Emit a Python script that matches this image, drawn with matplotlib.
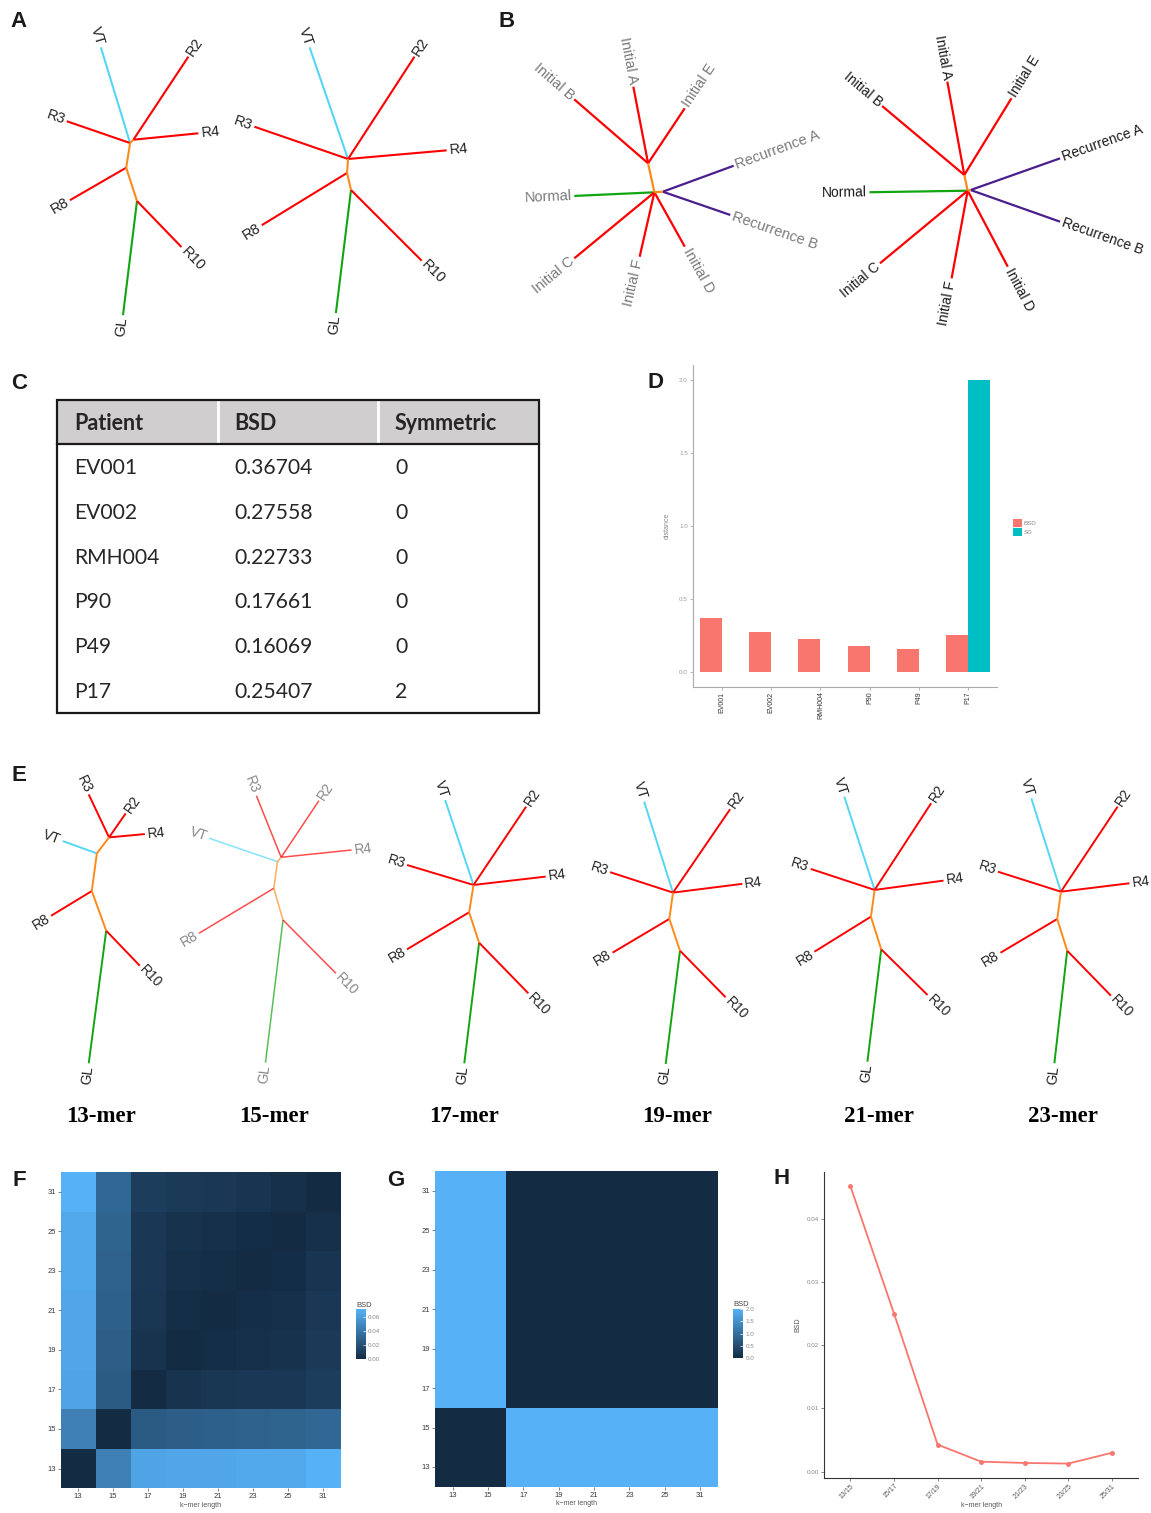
import numpy as np
import matplotlib
matplotlib.use("Agg")
import matplotlib.pyplot as plt
from matplotlib.colors import LinearSegmentedColormap
from matplotlib.patches import Rectangle

plt.rcParams['font.family'] = ['Liberation Sans', 'DejaVu Sans']

W, H = 1151, 1513

# ---- data -------------------------------------------------------------
patients = ["EV001", "EV002", "RMH004", "P90", "P49", "P17"]
bsd = [0.36704, 0.27558, 0.22733, 0.17661, 0.16069, 0.25407]
symmetric = [0, 0, 0, 0, 0, 2]

kmers = [13, 15, 17, 19, 21, 23, 25, 31]
# rows: y = 13 .. 31 (bottom to top), cols: x = 13 .. 31
bsd_matrix = [
    [0.000, 0.045, 0.064, 0.065, 0.065, 0.066, 0.066, 0.071],
    [0.045, 0.000, 0.025, 0.027, 0.028, 0.029, 0.030, 0.032],
    [0.064, 0.025, 0.000, 0.0043, 0.006, 0.007, 0.007, 0.010],
    [0.065, 0.027, 0.0043, 0.000, 0.0016, 0.003, 0.004, 0.008],
    [0.065, 0.028, 0.006, 0.0016, 0.000, 0.0014, 0.003, 0.007],
    [0.066, 0.029, 0.007, 0.003, 0.0014, 0.000, 0.0013, 0.005],
    [0.066, 0.030, 0.007, 0.004, 0.003, 0.0013, 0.000, 0.003],
    [0.071, 0.032, 0.010, 0.008, 0.007, 0.005, 0.003, 0.000],
]
sd_matrix = [
    [0, 0, 2, 2, 2, 2, 2, 2],
    [0, 0, 2, 2, 2, 2, 2, 2],
    [2, 2, 0, 0, 0, 0, 0, 0],
    [2, 2, 0, 0, 0, 0, 0, 0],
    [2, 2, 0, 0, 0, 0, 0, 0],
    [2, 2, 0, 0, 0, 0, 0, 0],
    [2, 2, 0, 0, 0, 0, 0, 0],
    [2, 2, 0, 0, 0, 0, 0, 0],
]
pair_labels = ["13/15", "15/17", "17/19", "19/21", "21/23", "23/25", "25/31"]
pair_bsd = [0.0451, 0.0250, 0.0043, 0.0016, 0.0014, 0.0013, 0.0030]

mer_titles = ["13-mer", "15-mer", "17-mer", "19-mer", "21-mer", "23-mer"]

# unrooted trees: (parent, child, branch length, angle in degrees)
tree_a1 = [("a", "GL", 115, -97), ("a", "R10", 64, -46), ("a", "b", 35, 108),
           ("b", "R8", 65, 210), ("b", "c", 25, 81), ("c", "VT", 100, 107),
           ("c", "R3", 67, 161), ("c", "d", 4.7, 45), ("d", "R2", 99.6, 56.5),
           ("d", "R4", 65.3, 5.6)]
tree_a2 = [("a", "GL", 124, -97), ("a", "R10", 100, -45), ("a", "b", 17.5, 103),
           ("b", "R8", 100, 211.5), ("b", "c", 14, 86), ("c", "VT", 118, 109),
           ("c", "R3", 99, 161), ("c", "R2", 122, 57), ("c", "R4", 99, 5)]
tree_b1 = [("m", "c", 29.7, 102.3), ("m", "r", 8.4, 4), ("m", "Normal", 80.2, 182.6),
           ("m", "Initial C", 103.8, 219.5), ("m", "Initial F", 66.1, 257.1),
           ("m", "Initial D", 62.3, -60.8), ("r", "Recurrence A", 75.5, 20.1),
           ("r", "Recurrence B", 71.4, -19), ("c", "Initial B", 97.7, 139.1),
           ("c", "Initial A", 78, 100.9), ("c", "Initial E", 66.1, 56.3)]
tree_b2 = [("m", "c", 16.1, 102.2), ("m", "r", 3, 13), ("m", "Normal", 98.3, 180.9),
           ("m", "Initial C", 113.9, 219.6), ("m", "Initial F", 89.1, 259.6),
           ("m", "Initial D", 85.9, -62.2), ("r", "Recurrence A", 94.9, 19.5),
           ("r", "Recurrence B", 94.9, -19.5), ("c", "Initial B", 107.3, 140),
           ("c", "Initial A", 94.8, 100.3), ("c", "Initial E", 90.1, 58.4)]
tree_13 = [("a", "GL", 133.7, -97.5), ("a", "R10", 48.5, -46.2), ("a", "b", 42.2, 110),
           ("b", "R8", 47.6, 211.3), ("b", "e", 38, 82.3), ("e", "VT", 36.2, 160.1),
           ("e", "d", 20.1, 52.7), ("d", "R3", 47.6, 115.3), ("d", "R2", 29.2, 55.2),
           ("d", "R4", 36, 5.3)]
tree_15 = [("a", "GL", 143.8, -97), ("a", "R10", 75.1, -45.2), ("a", "b", 33, 106.2),
           ("b", "R8", 87.3, 211), ("b", "e", 26.9, 82.1), ("e", "VT", 72.4, 161.1),
           ("e", "d", 5.7, 50), ("d", "R3", 66.4, 111.9), ("d", "R2", 68, 56.3),
           ("d", "R4", 70.7, 5.9)]
tree_17 = [("a", "GL", 121.5, -97), ("a", "R10", 70.6, -45.8), ("a", "b", 32, 108.2),
           ("b", "R8", 72.3, 210.8), ("b", "c", 27.7, 80.8), ("c", "VT", 89.6, 108.5),
           ("c", "R3", 69.4, 163.3), ("c", "R2", 94.3, 56.1), ("c", "R4", 72.7, 6.6)]
tree_19 = [("a", "GL", 114.2, -97.2), ("a", "R10", 65.2, -45.6), ("a", "b", 33.5, 108.6),
           ("b", "R8", 66, 210.7), ("b", "c", 26.6, 82), ("c", "VT", 95.5, 107.6),
           ("c", "R3", 66.2, 162), ("c", "R2", 101.1, 55.6), ("c", "R4", 69.8, 7.2)]
tree_21 = [("a", "GL", 113.2, -97), ("a", "R10", 65.1, -44.6), ("a", "b", 34.2, 107.5),
           ("b", "R8", 66.4, 211.8), ("b", "c", 27, 82.1), ("c", "VT", 98.1, 108),
           ("c", "R3", 67.2, 161.8), ("c", "R2", 103.5, 56.9), ("c", "R4", 69.5, 7.7)]
tree_23 = [("a", "GL", 113.3, -96.5), ("a", "R10", 62.7, -45.8), ("a", "b", 33.2, 107.5),
           ("b", "R8", 66, 210.7), ("b", "c", 27.6, 82.3), ("c", "VT", 98, 107.6),
           ("c", "R3", 66.1, 162.4), ("c", "R2", 102.2, 56.3), ("c", "R4", 69.1, 7)]

# ---- helpers ----------------------------------------------------------
ORANGE = "#FF8A1C"


def tip_color(name):
    if name == "VT":
        return "#55D6F4"
    if name in ("GL", "Normal"):
        return "#12A512"
    if name.startswith("Recurrence"):
        return "#4A1E8C"
    return "#FF0000"


def draw_tree(ax, root, edges, fs, label_color, lw, alpha=1.0):
    pos = {edges[0][0]: root}
    for parent, child, length, ang in edges:
        x0, y0 = pos[parent]
        t = np.radians(ang)
        x1, y1 = x0 + length * np.cos(t), y0 - length * np.sin(t)
        pos[child] = (x1, y1)
        internal = len(child) == 1
        col = ORANGE if internal else tip_color(child)
        ax.plot([x0, x1], [y0, y1], color=col, lw=lw, alpha=alpha,
                solid_capstyle="butt", zorder=3 if internal else 2)
        if not internal:
            lx, ly = x1 + 2.5 * np.cos(t), y1 - 2.5 * np.sin(t)
            if np.cos(t) >= 0:
                rot, ha = ang, "left"
            else:
                rot, ha = ang - 180, "right"
            rot = ((rot + 180) % 360) - 180
            ax.text(lx, ly, child, rotation=rot, ha=ha, va="center",
                    rotation_mode="anchor", fontsize=fs, color=label_color)


fig = plt.figure(figsize=(W / 100, H / 100), dpi=100)


def px_axes(l, t, r, b):
    return fig.add_axes([l / W, 1 - b / H, (r - l) / W, (b - t) / H])


ax0 = fig.add_axes([0, 0, 1, 1])
ax0.set_xlim(0, W)
ax0.set_ylim(H, 0)
ax0.axis("off")

# ---- A / B / E trees --------------------------------------------------
draw_tree(ax0, (137, 201), tree_a1, 10.5, "#222222", 1.5)
draw_tree(ax0, (351, 190), tree_a2, 10.5, "#222222", 1.5)
draw_tree(ax0, (654.4, 192.3), tree_b1, 10.5, "#7a7a7a", 1.6)
draw_tree(ax0, (967.7, 190.7), tree_b2, 10, "#1a1a1a", 1.6)

e_trees = [tree_13, tree_15, tree_17, tree_19, tree_21, tree_23]
e_roots = [(106.2, 930.7), (283, 920), (479.1, 942.7), (680, 950.7),
           (881.2, 949.3), (1067.2, 950.7)]
e_title_x = [100.8, 273.8, 464.3, 677.4, 879.4, 1062.8]
for i, (tr, rt) in enumerate(zip(e_trees, e_roots)):
    if i == 1:
        draw_tree(ax0, rt, tr, 10, "#888888", 1.1, alpha=0.7)
    else:
        draw_tree(ax0, rt, tr, 10, "#222222", 1.4)
    ax0.text(e_title_x[i], 1116, mer_titles[i], ha="center", va="center",
             fontsize=16.5, fontweight="bold", family="Liberation Serif")

# ---- C table ----------------------------------------------------------
tl, tr_, tt, tb, th = 57, 539, 400, 713, 444
ax0.add_patch(Rectangle((tl, tt), tr_ - tl, th - tt, facecolor="#D0CECE",
                        edgecolor="none", zorder=1))
for xs in (218, 378):
    ax0.plot([xs, xs], [tt, th], color="white", lw=2, zorder=2)
ax0.add_patch(Rectangle((tl, tt), tr_ - tl, tb - tt, facecolor="none",
                        edgecolor="#1a1a1a", lw=1.6, zorder=3))
ax0.plot([tl, tr_], [th, th], color="#1a1a1a", lw=1.6, zorder=3)
col_x = [74, 234, 395]
for x, h in zip(col_x, ["Patient", "BSD", "Symmetric"]):
    ax0.text(x, 423, h, ha="left", va="center", fontsize=15.5,
             fontweight="bold", family="Lato", color="#262626")
for i, (p, b, s) in enumerate(zip(patients, bsd, symmetric)):
    y = 468.3 + i * 44.7
    ax0.text(col_x[0], y, p, ha="left", va="center", fontsize=15.2,
             family="Lato", color="#262626")
    ax0.text(col_x[1], y, f"{b:.5f}", ha="left", va="center", fontsize=15.2,
             family="Lato", color="#262626")
    ax0.text(col_x[2], y, str(s), ha="left", va="center", fontsize=15.2,
             family="Lato", color="#262626")

# ---- D bar chart ------------------------------------------------------
axD = px_axes(692.7, 365, 997.4, 686.7)
x = np.arange(len(patients))
b1 = axD.bar(x - 0.225, bsd, 0.45, color="#F8766D", label="BSD")
b2 = axD.bar(x + 0.225, symmetric, 0.45, color="#00BFC4", label="SD")
axD.set_xlim(-0.6, 5.6)
axD.set_ylim(-0.1, 2.1)
axD.set_xticks(x, patients, rotation=90, fontsize=5, color="#333333")
axD.set_yticks([0, 0.5, 1.0, 1.5, 2.0], ["0.0", "0.5", "1.0", "1.5", "2.0"],
               fontsize=4.5, color="#999999")
axD.tick_params(length=2, width=0.5, color="#999999", pad=1.5)
for s in ("top", "right"):
    axD.spines[s].set_visible(False)
for s in ("left", "bottom"):
    axD.spines[s].set_color("#aaaaaa")
    axD.spines[s].set_linewidth(0.8)
axD.set_ylabel("distance", fontsize=5, color="#888888", labelpad=6)
fig.legend(handles=[b1, b2], labels=["BSD", "SD"], loc="center left",
           bbox_to_anchor=(1007 / W, 1 - 527.5 / H), fontsize=4.5,
           frameon=False, handlelength=1.5, handleheight=1.5,
           labelspacing=0.15, handletextpad=0.3, labelcolor="#888888")

# ---- F / G heatmaps ---------------------------------------------------
gg = LinearSegmentedColormap.from_list("gg", ["#132B43", "#56B1F7"])
edges = np.arange(len(kmers) + 1) - 0.5


def heat(l, t, r, b, mat, vmax, cb_box, cb_ticks, cb_fmt):
    ax = px_axes(l, t, r, b)
    m = ax.pcolormesh(edges, edges, np.array(mat, dtype=float), cmap=gg,
                      vmin=0, vmax=vmax)
    ax.set_xticks(range(len(kmers)), kmers, fontsize=5.5, color="#3a3a3a")
    ax.set_yticks(range(len(kmers)), kmers, fontsize=5.5, color="#3a3a3a")
    ax.tick_params(length=2, width=0.5, color="#555555", pad=1.5)
    for s in ax.spines.values():
        s.set_visible(False)
    ax.set_xlabel("k\u2212mer length", fontsize=5, color="#555555", labelpad=1)
    cax = px_axes(*cb_box)
    cb = fig.colorbar(m, cax=cax)
    cb.outline.set_visible(False)
    cb.set_ticks(cb_ticks, labels=[cb_fmt % v for v in cb_ticks])
    cax.tick_params(length=2, width=0.5, color="white", direction="in",
                    labelsize=4.5, labelcolor="#888888", pad=1.5)
    cax.set_title("BSD", fontsize=5.5, loc="left", pad=2, color="#444444")
    return ax


heat(60.7, 1172, 340.7, 1488.3, bsd_matrix, 0.071,
     (356, 1309.3, 366, 1359), [0, 0.02, 0.04, 0.06], "%.2f")
heat(435, 1171, 717.7, 1486.7, sd_matrix, 2.0,
     (733.3, 1309, 743.3, 1358.3), [0, 0.5, 1.0, 1.5, 2.0], "%.1f")

# ---- H line chart -----------------------------------------------------
axH = px_axes(824.3, 1172, 1138, 1477.7)
axH.plot(range(len(pair_labels)), pair_bsd, color="#F8766D", lw=1.3,
         marker="o", ms=2.5)
axH.set_xlim(-0.6, len(pair_labels) - 0.4)
axH.set_ylim(-0.00093, 0.04735)
axH.set_xticks(range(len(pair_labels)), pair_labels, rotation=45, ha="right",
               rotation_mode="anchor", fontsize=5, color="#555555")
axH.set_yticks([0, 0.01, 0.02, 0.03, 0.04],
               ["0.00", "0.01", "0.02", "0.03", "0.04"], fontsize=4.5,
               color="#888888")
axH.tick_params(length=2, width=0.5, color="#555555", pad=1.5)
for s in ("top", "right"):
    axH.spines[s].set_visible(False)
for s in ("left", "bottom"):
    axH.spines[s].set_color("#333333")
    axH.spines[s].set_linewidth(0.8)
axH.set_ylabel("BSD", fontsize=5, color="#555555", labelpad=4)
axH.set_xlabel("k\u2212mer length", fontsize=5, color="#555555", labelpad=1)

# ---- panel letters ----------------------------------------------------
letters = {"A": (18.7, 21.3), "B": (507, 21.5), "C": (18.7, 383.3),
           "D": (656, 382), "E": (18.8, 775.5), "F": (19.3, 1180),
           "G": (396, 1180), "H": (782, 1179)}
for k, (lx, ly) in letters.items():
    ax0.text(lx, ly, k, ha="center", va="center", fontsize=16,
             fontweight="bold", color="#1a1a1a")

fig.savefig("out.png", dpi=100)
plt.close(fig)
